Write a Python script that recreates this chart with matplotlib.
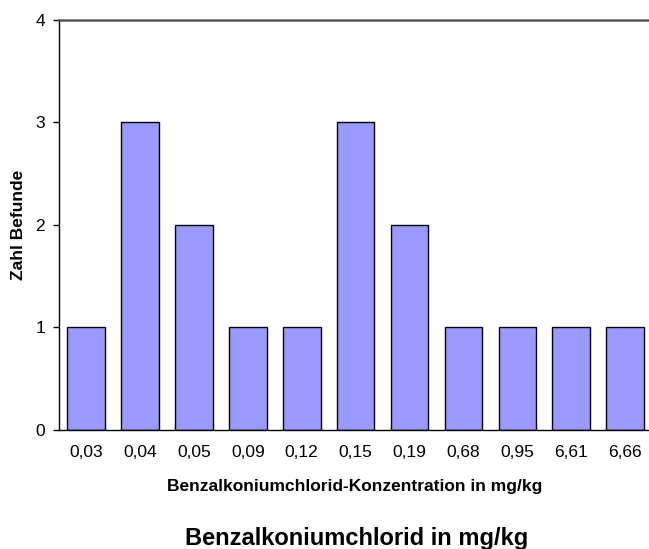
import matplotlib
matplotlib.use('Agg')
import matplotlib.pyplot as plt

plt.rcParams['font.family'] = ['Liberation Sans', 'DejaVu Sans']

# Data
concentrations = ['0,03', '0,04', '0,05', '0,09', '0,12', '0,15', '0,19', '0,68', '0,95', '6,61', '6,66']
counts = [1, 3, 2, 1, 1, 3, 2, 1, 1, 1, 1]
y_ticks = [0, 1, 2, 3, 4]

fig = plt.figure(figsize=(6.49, 5.49), dpi=100)
ax = fig.add_axes([0.0909, 0.2168, 0.9141, 0.7468])

x = range(len(concentrations))
ax.bar(x, counts, width=0.7, color='#9999FF', edgecolor='black', linewidth=1)

ax.set_xlim(-0.5, len(concentrations) - 0.5)
ax.set_ylim(0, 4)
ax.set_yticks(y_ticks)
ax.set_xticks(list(x))
ax.set_xticklabels(concentrations, fontsize=12.5)
ax.tick_params(axis='y', labelsize=12.5, length=4, width=1, direction='out', pad=6)
ax.tick_params(axis='x', length=0, pad=11)

ax.spines['right'].set_visible(False)
ax.spines['top'].set_color('#555555')
ax.spines['top'].set_linewidth(1.8)
ax.spines['left'].set_linewidth(1)
ax.spines['bottom'].set_linewidth(1)

ax.set_xlabel('Benzalkoniumchlorid-Konzentration in mg/kg', fontsize=12.5, fontweight='bold')
ax.xaxis.set_label_coords(0.499, -0.137)
ax.xaxis.label.set_va('center')
ax.set_ylabel('Zahl Befunde', fontsize=12.5, fontweight='bold')
ax.yaxis.set_label_coords(-0.069, 0.5)
ax.yaxis.label.set_va('center')

fig.text(0.549, 1 - 545 / 549, 'Benzalkoniumchlorid in mg/kg', fontsize=17, fontweight='bold',
         ha='center', va='baseline')

fig.savefig('out.png', dpi=100)
